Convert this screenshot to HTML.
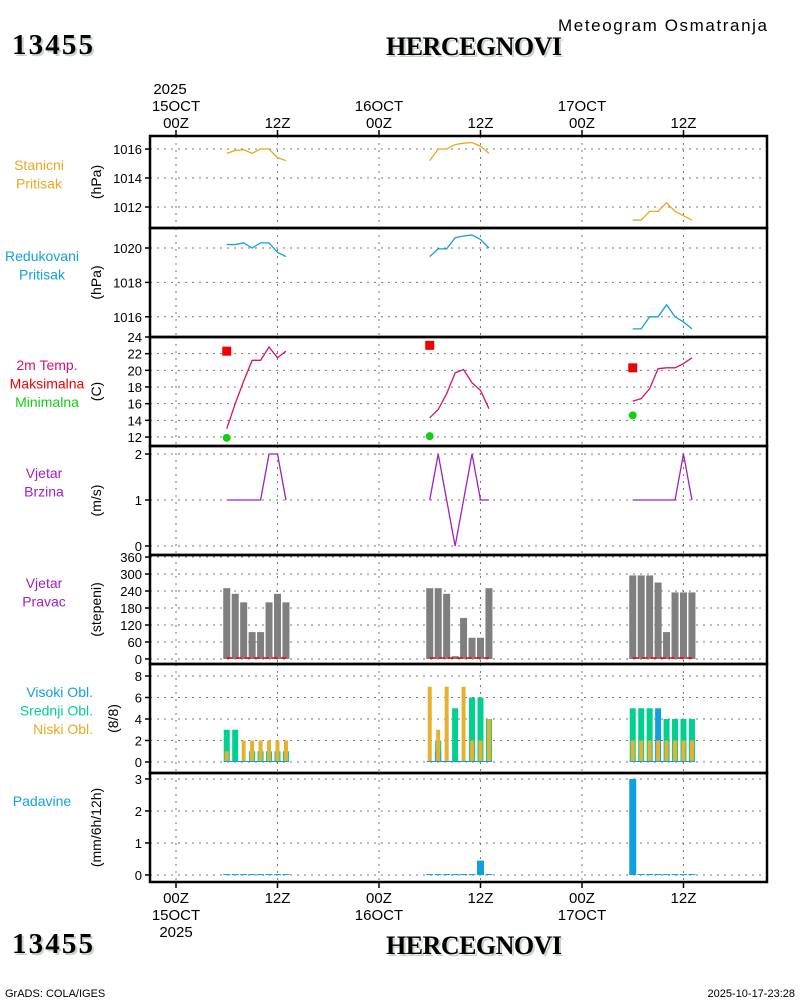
<!DOCTYPE html>
<html><head><meta charset="utf-8"><style>
html,body{margin:0;padding:0;background:#fff;}
svg{display:block;font-family:"Liberation Sans",sans-serif;}
</style></head><body>
<svg id="c" width="800" height="1000" viewBox="0 0 800 1000" xmlns="http://www.w3.org/2000/svg">
<g>
<text x="14" y="56" font-family="Liberation Serif,serif" font-weight="bold" font-size="29" textLength="81" fill="#c8d4c8">13455</text>
<text x="12" y="54" font-family="Liberation Serif,serif" font-weight="bold" font-size="29" textLength="81" fill="#000">13455</text>
<text x="388" y="57" font-family="Liberation Serif,serif" font-weight="bold" font-size="26" textLength="176" fill="#c8d4c8">HERCEGNOVI</text>
<text x="386" y="55" font-family="Liberation Serif,serif" font-weight="bold" font-size="26" textLength="176" fill="#000">HERCEGNOVI</text>
<text x="558" y="31" font-size="17" textLength="209" fill="#000">Meteogram Osmatranja</text>
</g>
<g>
<text x="14" y="955" font-family="Liberation Serif,serif" font-weight="bold" font-size="29" textLength="81" fill="#c8d4c8">13455</text>
<text x="12" y="953" font-family="Liberation Serif,serif" font-weight="bold" font-size="29" textLength="81" fill="#000">13455</text>
<text x="388" y="956" font-family="Liberation Serif,serif" font-weight="bold" font-size="26" textLength="176" fill="#c8d4c8">HERCEGNOVI</text>
<text x="386" y="954" font-family="Liberation Serif,serif" font-weight="bold" font-size="26" textLength="176" fill="#000">HERCEGNOVI</text>
<text x="5" y="997" font-size="11" fill="#000">GrADS: COLA/IGES</text>
<text x="795" y="997" text-anchor="end" font-size="11" fill="#000">2025-10-17-23:28</text>
</g>
</svg>
<script>
// ---- data ----
const hours = [6,7,8,9,10,11,12,13, 30,31,32,33,34,35,36,37, 54,55,56,57,58,59,60,61];
const presStation = [1015.7,1015.9,1015.95,1015.7,1016.0,1016.0,1015.4,1015.2, 1015.2,1016.0,1016.0,1016.3,1016.4,1016.45,1016.2,1015.7, 1011.1,1011.1,1011.7,1011.7,1012.3,1011.7,1011.4,1011.1];
const presReduced = [1020.2,1020.2,1020.3,1020.0,1020.3,1020.3,1019.75,1019.5, 1019.5,1019.95,1019.95,1020.6,1020.7,1020.75,1020.5,1020.0, 1015.3,1015.3,1016.0,1016.0,1016.7,1016.0,1015.7,1015.3];
const temp2m = [13.0,16.0,18.7,21.2,21.2,22.8,21.5,22.3, 14.3,15.3,17.2,19.7,20.1,18.5,17.6,15.4, 16.3,16.6,17.8,20.2,20.3,20.3,20.8,21.5];
const tmaxHours = [6,30,54];
const tmax = [22.3,23.0,20.3];
const tmin = [11.9,12.1,14.6];
const windSpeed = [1,1,1,1,1,2,2,1, 1,2,1,0,1,2,1,1, 1,1,1,1,1,1,2,1];
const windDir = [250,230,200,95,95,200,230,200, 250,250,230,10,145,75,75,250, 295,295,295,270,95,235,235,235];
const cloudHigh = [0,0,0,0,0,0,0,0, 0,1,0,0,0,0,0,0, 0,0,0,5,0,0,0,0];
const cloudMid = [3,3,0,1,1,1,1,1, 0,2,0,5,0,6,6,4, 5,5,5,0,4,4,4,4];
const cloudLow = [1,0,2,2,2,2,2,2, 7,3,7,0,7,2,2,4, 2,2,2,2,2,2,2,2];
const precip = [0.03,0.03,0.03,0.03,0.03,0.03,0.03,0.03, 0.03,0.03,0.03,0.03,0.03,0.03,0.45,0.03, 3.0,0.03,0.03,0.03,0.03,0.03,0.03,0.03];
const dayLabels = ['15OCT','16OCT','17OCT'];
const ticksP1 = [1012,1014,1016];
const ticksP2 = [1016,1018,1020];
const ticksP3 = [12,14,16,18,20,22,24];
const ticksP4 = [0,1,2];
const ticksP5 = [0,60,120,180,240,300,360];
const ticksP6 = [0,2,4,6,8];
const ticksP7 = [0,1,2,3];

const NS='http://www.w3.org/2000/svg';
const svg=document.getElementById('c');
function el(tag,attrs,parent){const e=document.createElementNS(NS,tag);for(const k in attrs)e.setAttribute(k,attrs[k]);(parent||svg).appendChild(e);return e;}
const X0=150,X1=767;
const xs=h=>176+h*8.458;
const panels=[
 {top:136,bot:228,y:v=>149+(1016-v)*14.5,ticks:ticksP1,unit:'(hPa)',ux:96,ly:170,lx:39,anc:'middle',lab:[['Stanicni','#e8a820'],['Pritisak','#e8a820']],name:'station-pressure'},
 {top:228,bot:337,y:v=>248+(1020-v)*17.2,ticks:ticksP2,unit:'(hPa)',ux:96,ly:261,lx:42,anc:'middle',lab:[['Redukovani','#10a0e0'],['Pritisak','#10a0e0']],name:'reduced-pressure'},
 {top:337,bot:446,y:v=>437-(v-12)*8.333,ticks:ticksP3,unit:'(C)',ux:96,ly:370,lx:47,anc:'middle',lab:[['2m Temp.','#e0106a'],['Maksimalna','#f00000'],['Minimalna','#10d010']],name:'temperature'},
 {top:446,bot:555,y:v=>546-v*46,ticks:ticksP4,unit:'(m/s)',ux:96,ly:478,lx:44,anc:'middle',lab:[['Vjetar','#a020c0'],['Brzina','#a020c0']],name:'wind-speed'},
 {top:555,bot:664,y:v=>659-v*0.2833,ticks:ticksP5,unit:'(stepeni)',ux:96,ly:588,lx:44,anc:'middle',lab:[['Vjetar','#a020c0'],['Pravac','#a020c0']],name:'wind-direction'},
 {top:664,bot:773,y:v=>762-v*10.75,ticks:ticksP6,unit:'(8/8)',ux:113,ly:697,lx:93,anc:'end',lab:[['Visoki Obl.','#10a0e0'],['Srednji Obl.','#00d090'],['Niski Obl.','#e8a820']],name:'cloud-cover'},
 {top:773,bot:882,y:v=>875-v*32,ticks:ticksP7,unit:'(mm/6h/12h)',ux:96,ly:806,lx:42,anc:'middle',lab:[['Padavine','#10a0e0']],name:'precipitation'}
];
const vgrid=[0,12,24,36,48,60];
panels.forEach((p,pi)=>{
 const g=el('g',{});
 
 
 p.ticks.forEach(t=>{
  const y=p.y(t);
  const gl=el('line',{x1:X0,x2:X1,y1:y,y2:y,stroke:'#777','stroke-dasharray':'2,5','stroke-width':1},g);
  
  
  el('line',{x1:X0-5,x2:X0,y1:y,y2:y,stroke:'#000','stroke-width':1.5},g);
  const tl=el('text',{x:X0-8,y:y+5,'text-anchor':'end','font-size':13,fill:'#000'},g);
  tl.textContent=t;
  
  
 });
 vgrid.forEach(h=>{
  el('line',{x1:xs(h),x2:xs(h),y1:p.top,y2:p.bot,stroke:'#777','stroke-dasharray':'2,5','stroke-width':1},g);
 });
 const mid=(p.top+p.bot)/2;
 const ut=el('text',{x:0,y:0,'text-anchor':'middle','font-size':14,fill:'#000',transform:`translate(${p.ux+5},${mid}) rotate(-90)`},g);
 ut.textContent=p.unit;
 
 
 p.lab.forEach((l,i)=>{
  const t=el('text',{x:p.lx,y:p.ly+i*18.5,'text-anchor':p.anc,'font-size':14,fill:l[1]},g);
  t.textContent=l[0];
  
  
 });
 p.g=g;
});
// series drawing
function line(p,vals,color,name){
 [0,8,16].forEach(s=>{
  const pts=[];for(let i=s;i<s+8;i++)pts.push(xs(hours[i])+','+p.y(vals[i]));
  const pl=el('polyline',{points:pts.join(' '),fill:'none',stroke:color,'stroke-width':1.3},p.g);
  
  
 });
}
line(panels[0],presStation,'#e8a820','station-pressure-line');
line(panels[1],presReduced,'#10a0e0','reduced-pressure-line');
line(panels[2],temp2m,'#d8106a','temperature-line');
line(panels[3],windSpeed,'#a020c0','wind-speed-line');
tmax.forEach((v,i)=>{
 const r=el('rect',{x:xs(tmaxHours[i])-4.5,y:panels[2].y(v)-4.5,width:9,height:9,fill:'#f00000'},panels[2].g);
 
 
});
tmin.forEach((v,i)=>{
 const c=el('circle',{cx:xs(tmaxHours[i]),cy:panels[2].y(v),r:4,fill:'#10d010'},panels[2].g);
 
 
});
function bars(p,vals,color,w,name){
 vals.forEach((v,i)=>{
  if(v<=0)return;
  const y=p.y(v),y0=p.y(0);
  const b=el('rect',{x:xs(hours[i])-w/2,y:y,width:w,height:Math.max(1,y0-y),fill:color},p.g);
  
  
 });
}
bars(panels[4],windDir,'#7f7f7f',7,'wind-direction-bar');
[0,8,16].forEach(s=>{
 const d=el('line',{x1:xs(hours[s]),x2:xs(hours[s+7]),y1:658,y2:658,stroke:'#f00000','stroke-width':1.5,'stroke-dasharray':'6,3'},panels[4].g);
 
 
});
bars(panels[5],cloudMid,'#00d090',6,'mid-cloud-bar');
bars(panels[5],cloudHigh,'#10a0e0',6,'high-cloud-bar');
bars(panels[5],cloudLow,'#e8b030',4,'low-cloud-bar');
[0,8,16].forEach(s=>{
 el('line',{x1:xs(hours[s])-3,x2:xs(hours[s+7])+3,y1:761.5,y2:761.5,stroke:'#10a0e0','stroke-width':1},panels[5].g);
});
bars(panels[6],precip,'#10a0e0',7,'precip-bar');
// frames
panels.forEach(p=>{
 const f=el('rect',{x:X0,y:p.top,width:X1-X0,height:p.bot-p.top,fill:'none',stroke:'#000','stroke-width':2.5});
 
 
});
// time axes
vgrid.forEach((h,i)=>{
 const x=xs(h);
 el('line',{x1:x,x2:x,y1:130,y2:136,stroke:'#000','stroke-width':1.5});
 el('line',{x1:x,x2:x,y1:882,y2:888,stroke:'#000','stroke-width':1.5});
 const lbl=(h%24===0)?'00Z':'12Z';
 const t1=el('text',{x:x,y:128,'text-anchor':'middle','font-size':15,fill:'#000'});t1.textContent=lbl;
 
 
 const t2=el('text',{x:x,y:903,'text-anchor':'middle','font-size':15,fill:'#000'});t2.textContent=lbl;
 
 
 if(h%24===0){
  const d=dayLabels[h/24];
  const a=el('text',{x:x,y:111,'text-anchor':'middle','font-size':15,fill:'#000'});a.textContent=d;
  
  
  const b=el('text',{x:x,y:920,'text-anchor':'middle','font-size':15,fill:'#000'});b.textContent=d;
  
  
 }
});
const yt=el('text',{x:xs(0)-6,y:94,'text-anchor':'middle','font-size':15,fill:'#000'});yt.textContent='2025';


const yb=el('text',{x:xs(0),y:937,'text-anchor':'middle','font-size':15,fill:'#000'});yb.textContent='2025';


</script>
</body></html>
